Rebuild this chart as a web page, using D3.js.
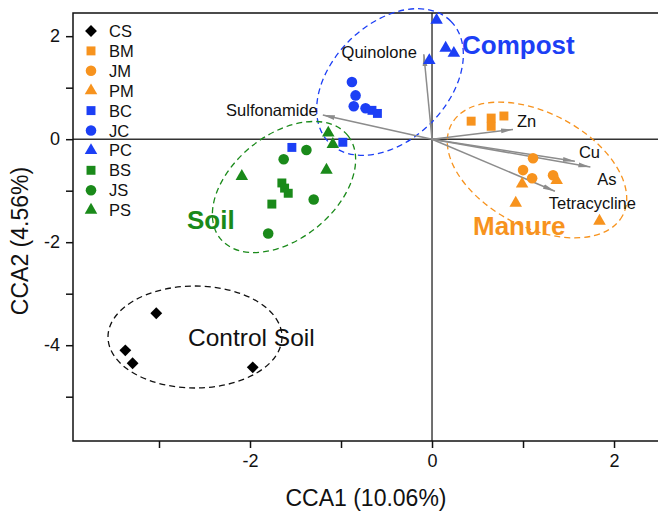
<!DOCTYPE html>
<html>
<head>
<meta charset="utf-8">
<script src="https://cdn.jsdelivr.net/npm/d3@7"></script>
<style>
  body { margin: 0; background: #fff; }
  text { font-family: "Liberation Sans", Arial, sans-serif; }
</style>
</head>
<body>
<div id="chart"></div>
<script>
// sample scores (CCA1, CCA2)
var CS = [[-3.03, -3.38], [-3.37, -4.10], [-3.29, -4.35], [-1.97, -4.43]];
var BM = [[0.43, 0.35], [0.65, 0.41], [0.65, 0.25], [0.79, 0.45]];
var JM = [[1.11, -0.37], [1.00, -0.60], [1.10, -0.76], [1.33, -0.70]];
var PM = [[0.99, -0.87], [1.37, -0.80], [0.92, -1.24], [1.84, -1.59]];
var BC = [[-1.54, -0.16], [-0.98, -0.06], [-0.66, 0.56], [-0.60, 0.50]];
var JC = [[-0.88, 1.11], [-0.84, 0.85], [-0.86, 0.64], [-0.73, 0.60]];
var PC = [[0.05, 2.31], [0.15, 1.77], [0.24, 1.67], [-0.03, 1.53]];
var BS = [[-1.65, -0.85], [-1.62, -0.95], [-1.58, -1.05], [-1.76, -1.26]];
var JS = [[-1.38, -0.21], [-1.63, -0.39], [-1.30, -1.17], [-1.80, -1.83]];
var PS = [[-1.14, 0.12], [-1.09, -0.10], [-1.16, -0.60], [-2.09, -0.72]];

var groupNames = ['CS', 'BM', 'JM', 'PM', 'BC', 'JC', 'PC', 'BS', 'JS', 'PS'];
var groupData = [CS, BM, JM, PM, BC, JC, PC, BS, JS, PS];

// environmental vectors
var vecNames = ['Quinolone', 'Sulfonamide', 'Zn', 'Cu', 'As', 'Tetracycline'];
var vecX = [-0.09, -1.20, 0.89, 1.57, 1.74, 1.35];
var vecY = [1.65, 0.47, 0.19, -0.43, -0.54, -1.01];

var xTicks = [-3, -2, -1, 0, 1, 2];
var yTicks = [-5, -4, -3, -2, -1, 0, 1, 2];

var W = 658, H = 512;
var orange = '#f7931e', blue = '#1c3ff5', green = '#1a8a1a';

var style = {
  CS: { shape: 'diamond', color: '#000' },
  BM: { shape: 'square', color: orange },
  JM: { shape: 'circle', color: orange },
  PM: { shape: 'triangle', color: orange },
  BC: { shape: 'square', color: blue },
  JC: { shape: 'circle', color: blue },
  PC: { shape: 'triangle', color: blue },
  BS: { shape: 'square', color: green },
  JS: { shape: 'circle', color: green },
  PS: { shape: 'triangle', color: green }
};

var x = d3.scaleLinear().domain([-3.945, 2.648]).range([73, 673]);
var y = d3.scaleLinear().domain([-5.86, 2.45]).range([441, 13]);

var svg = d3.select('#chart').append('svg')
  .attr('width', W)
  .attr('height', H);

function symbolPath(shape) {
  if (shape == 'diamond') return d3.symbol().type(d3.symbolSquare).size(70)();
  if (shape == 'square') return d3.symbol().type(d3.symbolSquare).size(80)();
  if (shape == 'circle') return d3.symbol().type(d3.symbolCircle).size(88)();
  return d3.symbol().type(d3.symbolTriangle).size(68)();
}
function symbolRot(shape) { return shape == 'diamond' ? ' rotate(45)' : ''; }

// zero lines
svg.append('line')
  .attr('x1', x.range()[0]).attr('x2', x.range()[1])
  .attr('y1', y(0)).attr('y2', y(0))
  .attr('stroke', '#333').attr('stroke-width', 1.4);
svg.append('line')
  .attr('x1', x(0)).attr('x2', x(0))
  .attr('y1', y.range()[1]).attr('y2', y.range()[0])
  .attr('stroke', '#333').attr('stroke-width', 1.4);

// frame
svg.append('rect')
  .attr('x', x.range()[0]).attr('y', y.range()[1])
  .attr('width', x.range()[1] - x.range()[0])
  .attr('height', y.range()[0] - y.range()[1])
  .attr('fill', 'none').attr('stroke', '#111').attr('stroke-width', 1.5);

// axes
var xAxis = svg.append('g')
  .attr('transform', 'translate(0,' + y.range()[0] + ')')
  .call(d3.axisBottom(x).tickValues(xTicks).tickSize(7).tickPadding(6)
    .tickFormat(function(d) { return d % 2 == 0 ? d : ''; }));
var yAxis = svg.append('g')
  .attr('transform', 'translate(' + x.range()[0] + ',0)')
  .call(d3.axisLeft(y).tickValues(yTicks).tickSize(7).tickPadding(6)
    .tickFormat(function(d) { return d % 2 == 0 ? d : ''; }));
[xAxis, yAxis].forEach(function(a) {
  a.select('.domain').remove();
  a.selectAll('line').attr('stroke', '#111').attr('stroke-width', 1.5);
  a.selectAll('text').attr('font-size', 18).attr('fill', '#111')
    .style('font-family', '"Liberation Sans", Arial, sans-serif');
});

svg.append('text')
  .attr('x', 366).attr('y', 506)
  .attr('text-anchor', 'middle')
  .attr('font-size', 23).attr('fill', '#111')
  .text('CCA1 (10.06%)');
svg.append('text')
  .attr('transform', 'translate(28,' + 241 + ') rotate(-90)')
  .attr('text-anchor', 'middle')
  .attr('font-size', 23).attr('fill', '#111')
  .text('CCA2 (4.56%)');

// group ellipses
function ellipse(cx, cy, rx, ry, rot, color) {
  svg.append('ellipse')
    .attr('transform', 'translate(' + cx + ',' + cy + ') rotate(' + rot + ')')
    .attr('rx', rx).attr('ry', ry)
    .attr('fill', 'none').attr('stroke', color)
    .attr('stroke-width', 1.3).attr('stroke-dasharray', '6,4');
}
ellipse(390, 82, 86, 58, -45, blue);
ellipse(284, 187, 82, 52, -39, green);
ellipse(537, 170, 97, 57, 28, orange);
ellipse(195, 337, 87, 51, 0, '#111');

// vectors
svg.append('defs').append('marker')
  .attr('id', 'arr')
  .attr('viewBox', '0 0 12 6')
  .attr('refX', 12).attr('refY', 3)
  .attr('markerWidth', 12).attr('markerHeight', 6)
  .attr('markerUnits', 'userSpaceOnUse')
  .attr('orient', 'auto')
  .append('path').attr('d', 'M0,0.6 L12,3 L0,5.4 Z').attr('fill', '#8c8c8c');

var vecLab = {
  Quinolone: [-7, 4, 'end'],
  Sulfonamide: [-5, 1, 'end'],
  Zn: [4, -2, 'start'],
  Cu: [4, -3, 'start'],
  As: [7, 18, 'start'],
  Tetracycline: [-6, 18, 'start']
};
vecNames.forEach(function(n, i) {
  svg.append('line')
    .attr('x1', x(0)).attr('y1', y(0))
    .attr('x2', x(vecX[i])).attr('y2', y(vecY[i]))
    .attr('stroke', '#8c8c8c').attr('stroke-width', 1.5)
    .attr('marker-end', 'url(#arr)');
  var o = vecLab[n];
  svg.append('text')
    .attr('x', x(vecX[i]) + o[0]).attr('y', y(vecY[i]) + o[1])
    .attr('text-anchor', o[2])
    .attr('font-size', 16.5).attr('fill', '#111')
    .text(n);
});

// points
groupNames.forEach(function(g, gi) {
  var s = style[g];
  svg.append('g').selectAll('path')
    .data(groupData[gi])
    .enter()
    .append('path')
    .attr('d', symbolPath(s.shape))
    .attr('transform', function(d) { return 'translate(' + x(d[0]) + ',' + y(d[1]) + ')' + symbolRot(s.shape); })
    .attr('fill', s.color);
});

// group labels
svg.append('text').attr('x', 462).attr('y', 54)
  .attr('font-size', 26).attr('font-weight', 'bold').attr('fill', blue).text('Compost');
svg.append('text').attr('x', 473).attr('y', 235)
  .attr('font-size', 26).attr('font-weight', 'bold').attr('fill', orange).text('Manure');
svg.append('text').attr('x', 187).attr('y', 229)
  .attr('font-size', 26).attr('font-weight', 'bold').attr('fill', green).text('Soil');
svg.append('text').attr('x', 188).attr('y', 346)
  .attr('font-size', 24.5).attr('fill', '#111').text('Control Soil');

// legend
var leg = svg.append('g');
groupNames.forEach(function(g, i) {
  var s = style[g];
  var ly = 31 + i * 19.9;
  leg.append('path')
    .attr('d', symbolPath(s.shape))
    .attr('transform', 'translate(91,' + ly + ')' + symbolRot(s.shape))
    .attr('fill', s.color);
  leg.append('text')
    .attr('x', 109).attr('y', ly + 6)
    .attr('font-size', 16.5).attr('fill', '#111')
    .text(g);
});
</script>
</body>
</html>
